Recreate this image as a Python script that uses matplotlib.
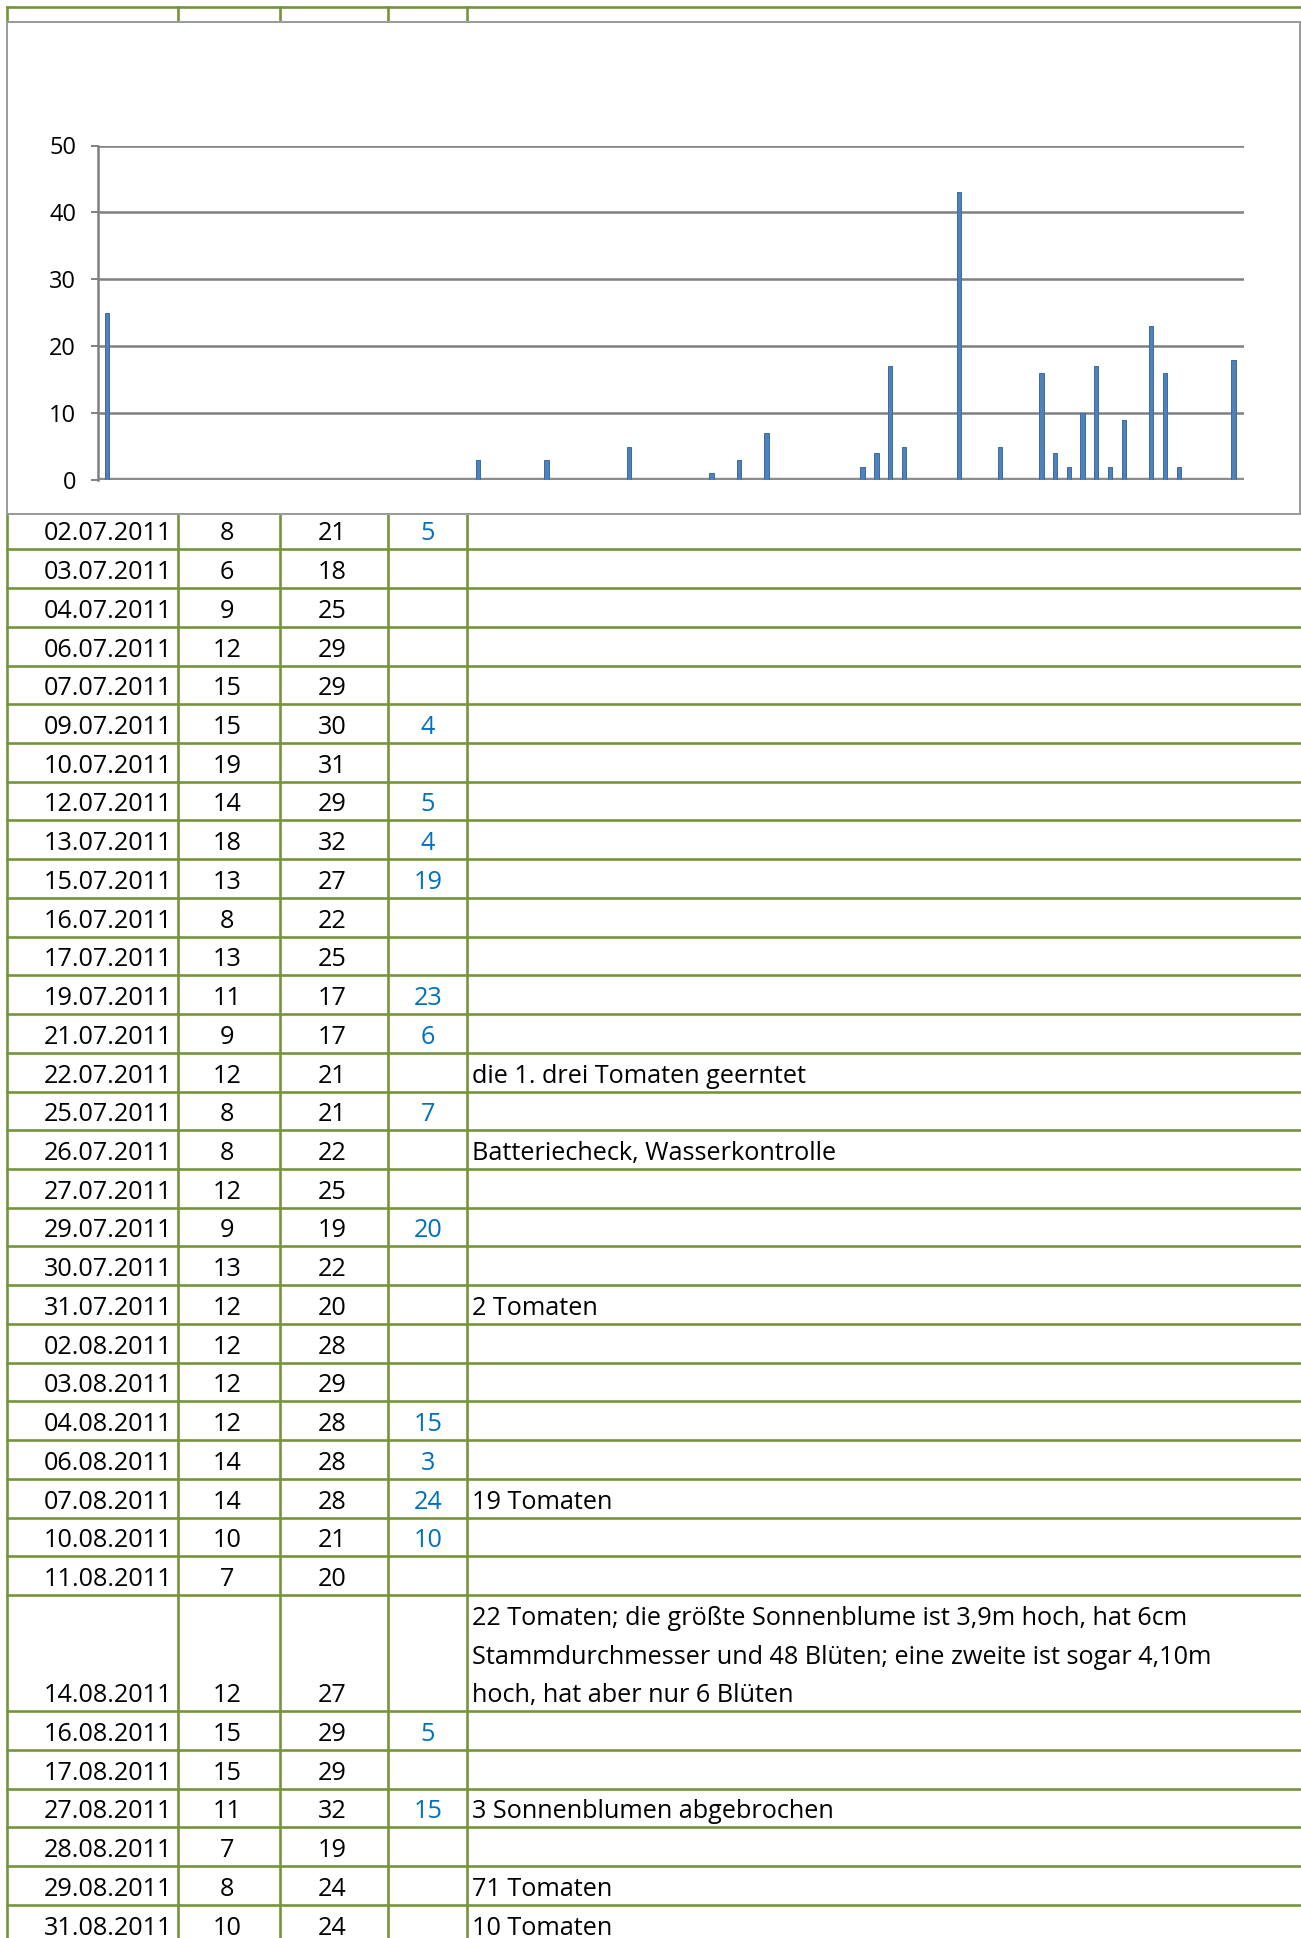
import matplotlib.pyplot as plt
from matplotlib.patches import Rectangle

# table data
dates = ["02.07.2011", "03.07.2011", "04.07.2011", "06.07.2011", "07.07.2011",
         "09.07.2011", "10.07.2011", "12.07.2011", "13.07.2011", "15.07.2011",
         "16.07.2011", "17.07.2011", "19.07.2011", "21.07.2011", "22.07.2011",
         "25.07.2011", "26.07.2011", "27.07.2011", "29.07.2011", "30.07.2011",
         "31.07.2011", "02.08.2011", "03.08.2011", "04.08.2011", "06.08.2011",
         "07.08.2011", "10.08.2011", "11.08.2011", "14.08.2011", "16.08.2011",
         "17.08.2011", "27.08.2011", "28.08.2011", "29.08.2011", "31.08.2011"]
t_min = [8, 6, 9, 12, 15, 15, 19, 14, 18, 13, 8, 13, 11, 9, 12, 8, 8, 12, 9, 13,
         12, 12, 12, 12, 14, 14, 10, 7, 12, 15, 15, 11, 7, 8, 10]
t_max = [21, 18, 25, 29, 29, 30, 31, 29, 32, 27, 22, 25, 17, 17, 21, 21, 22, 25, 19, 22,
         20, 28, 29, 28, 28, 28, 21, 20, 27, 29, 29, 32, 19, 24, 24]
rain = [5, None, None, None, None, 4, None, 5, 4, 19, None, None, 23, 6, None, 7, None,
        None, 20, None, None, None, None, 15, 3, 24, 10, None, None, 5, None, 15, None,
        None, None]
notes = ["", "", "", "", "", "", "", "", "", "", "", "", "", "",
         "die 1. drei Tomaten geerntet", "", "Batteriecheck, Wasserkontrolle", "", "", "",
         "2 Tomaten", "", "", "", "", "19 Tomaten", "", "",
         "22 Tomaten; die größte Sonnenblume ist 3,9m hoch, hat 6cm\n"
         "Stammdurchmesser und 48 Blüten; eine zweite ist sogar 4,10m\n"
         "hoch, hat aber nur 6 Blüten",
         "", "", "3 Sonnenblumen abgebrochen", "", "71 Tomaten", "10 Tomaten"]

# chart data (one value per day category)
bar_values = [25, 0, 0, 0, 0, 0, 0, 0, 0, 0,
              0, 0, 0, 0, 0, 0, 0, 0, 0, 0,
              0, 0, 0, 0, 0, 0, 0, 3, 0, 0,
              0, 0, 3, 0, 0, 0, 0, 0, 5, 0,
              0, 0, 0, 0, 1, 0, 3, 0, 7, 0,
              0, 0, 0, 0, 0, 2, 4, 17, 5, 0,
              0, 0, 43, 0, 0, 5, 0, 0, 16, 4,
              2, 10, 17, 2, 9, 0, 23, 16, 2, 0,
              0, 0, 18]
y_ticks = [0, 10, 20, 30, 40, 50]

W, H = 1301, 1938
green = "#77933C"
blue_txt = "#0070C0"
font = "Open Sans"
fs = 18.2

fig = plt.figure(figsize=(W / 100, H / 100), dpi=100)
tab = fig.add_axes([0, 0, 1, 1])
tab.set_xlim(0, W)
tab.set_ylim(H, 0)
tab.axis("off")

col_x = [7, 178.4, 279.7, 387.6, 467.2]
row_h = 38.73
top = 510.6

# row boundaries
bounds = [top]
for n in notes:
    bounds.append(bounds[-1] + row_h * (n.count("\n") + 1))

lw = 1.9
tab.plot([col_x[0], W], [6.7, 6.7], color=green, lw=lw)
for x in col_x:
    tab.plot([x, x], [6.7, 21], color=green, lw=lw)
    tab.plot([x, x], [514, H], color=green, lw=lw)
for b in bounds[1:]:
    tab.plot([col_x[0], W], [b, b], color=green, lw=lw)

for i in range(len(dates)):
    base = bounds[i + 1] - 9
    kw = dict(fontsize=fs, family=font, va="baseline")
    tab.text(172.5, base, dates[i], ha="right", **kw)
    tab.text(227, base, str(t_min[i]), ha="center", **kw)
    tab.text(332, base, str(t_max[i]), ha="center", **kw)
    if rain[i] is not None:
        tab.text(428, base, str(rain[i]), ha="center", color=blue_txt, **kw)
    lines = notes[i].split("\n")
    for k, line in enumerate(lines):
        y = bounds[i] + row_h * (k + 1) - 9
        tab.text(471.5, y, line, ha="left", **kw)

# chart box
tab.add_patch(Rectangle((6.5, 21.5), 1293, 492.5, facecolor="white",
                        edgecolor="#9a9a9a", lw=1.4, zorder=5))

ax = fig.add_axes([98.3 / W, 1 - 480 / H, (1244 - 98.3) / W, (480 - 145.5) / H], zorder=6)
ax.patch.set_alpha(0)
ax.bar(range(len(bar_values)), bar_values, width=0.32, color="#4F81BD",
       edgecolor="#3B6BA5", linewidth=0.7, zorder=3)
ax.set_xlim(-0.63, len(bar_values) - 0.25)
ax.set_ylim(0, 50)
ax.set_yticks(y_ticks)
ax.set_yticklabels([str(v) for v in y_ticks], fontsize=17, family=font)
ax.yaxis.grid(True, color="#808080", lw=1.8)
ax.set_axisbelow(True)
ax.set_xticks([])
ax.tick_params(axis="y", length=5, width=1.4, color="#808080", pad=11)
for s in ["top", "right", "bottom"]:
    ax.spines[s].set_visible(False)
ax.spines["left"].set_color("#808080")
ax.spines["left"].set_linewidth(1.8)
ax.axhline(0, color="#8c8c8c", lw=3.2, zorder=2)

fig.savefig("out.png", dpi=100)
